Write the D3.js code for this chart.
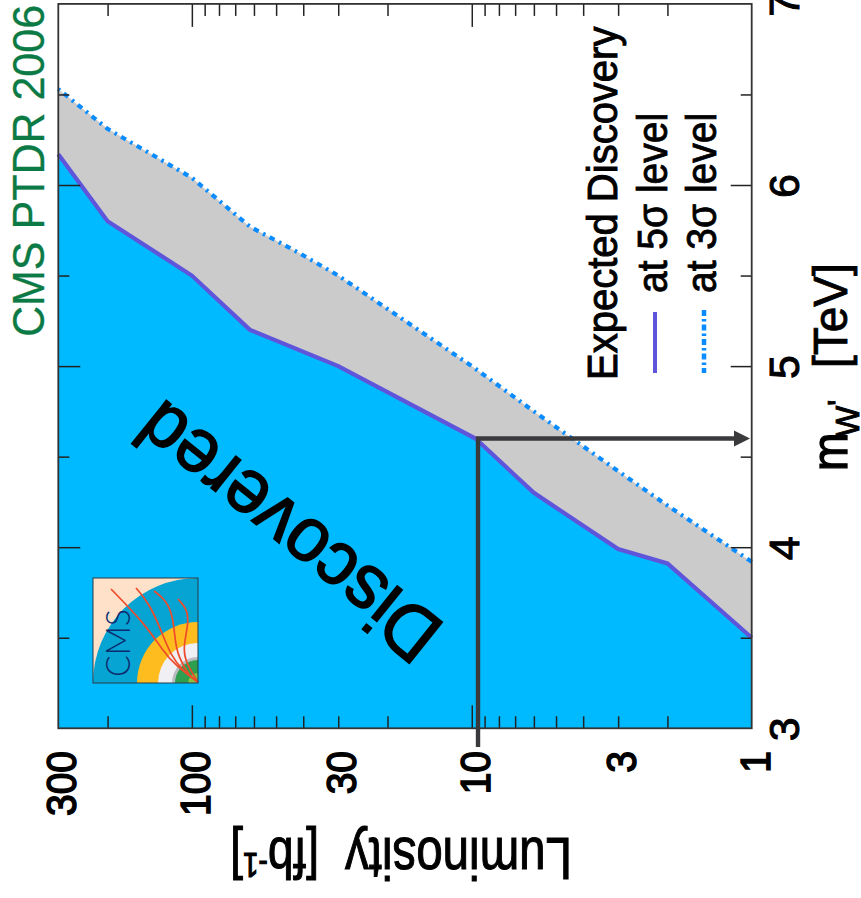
<!DOCTYPE html>
<html>
<head>
<meta charset="utf-8">
<script src="https://d3js.org/d3.v7.min.js"></script>
<style>
  html, body { margin: 0; padding: 0; background: #fff; overflow: hidden; }
  svg { display: block; }
  text { font-family: "Liberation Sans", Arial, sans-serif; }
</style>
</head>
<body>
<div id="chart"></div>
<script>
// values
const sig5Lumi = [1, 2, 3, 6, 9.7, 30, 62, 100, 200, 300];
const sig5Mass = [3.5, 3.91, 3.99, 4.3, 4.6, 5.0, 5.2, 5.5, 5.8, 6.17];
const sig3Lumi = [1, 2, 3, 6, 10, 30, 42, 62, 100, 200, 300];
const sig3Mass = [3.92, 4.23, 4.42, 4.75, 5.0, 5.5, 5.63, 5.77, 6.04, 6.31, 6.53];
const arrowLumi = 9.5;
const arrowMass = 4.6;

const lumiLabels = [1, 3, 10, 30, 100, 300];
const lumiMajor = [10, 100];
const lumiMinor = [2, 3, 4, 5, 6, 7, 8, 9, 20, 30, 40, 50, 60, 70, 80, 90, 200];
const massLabels = [3, 4, 5, 6, 7];
const massMajor = [4, 5, 6];
const massMinor = [3.5, 4.5, 5.5, 6.5];

const W = 861, H = 898;
const frame = {left: 58.3, right: 751.7, top: 3.9, bottom: 728.3};

const svg = d3.select('#chart').append('svg').attr('width', W).attr('height', H);

const x = d3.scaleLog().domain([1, 300]).range([frame.right, frame.left]);
const y = d3.scaleLinear().domain([3, 7]).range([frame.bottom, frame.top]);

const sig5 = sig5Lumi.map((l, i) => [l, sig5Mass[i]]);
const sig3 = sig3Lumi.map((l, i) => [l, sig3Mass[i]]);

const area = d3.area().x(d => x(d[0])).y0(y(3)).y1(d => y(d[1]));
const line = d3.line().x(d => x(d[0])).y(d => y(d[1]));

svg.append('path').attr('d', area(sig3)).attr('fill', '#cbcbcb');
svg.append('path').attr('d', area(sig5)).attr('fill', '#00baff');

svg.append('path').attr('d', line(sig3)).attr('fill', 'none')
    .attr('stroke', '#0a8cff').attr('stroke-width', 4.2).attr('stroke-dasharray', '5.5 5 2.5 5');
svg.append('path').attr('d', line(sig5)).attr('fill', 'none')
    .attr('stroke', '#5f55db').attr('stroke-width', 4.2);

// ticks on all four sides, pointing inwards
function ticks(axis, vals, size, tx, ty) {
    const g = svg.append('g').attr('transform', 'translate(' + tx + ',' + ty + ')')
        .call(axis.tickValues(vals).tickSize(size).tickFormat(''));
    g.select('.domain').remove();
    g.selectAll('line').attr('stroke', '#222').attr('stroke-width', 1.5);
}
ticks(d3.axisBottom(x), lumiMajor, 23, 0, frame.top);
ticks(d3.axisBottom(x), lumiMinor, 12, 0, frame.top);
ticks(d3.axisTop(x), lumiMajor, 23, 0, frame.bottom);
ticks(d3.axisTop(x), lumiMinor, 12, 0, frame.bottom);
ticks(d3.axisRight(y), massMajor, 22, frame.left, 0);
ticks(d3.axisRight(y), massMinor, 11, frame.left, 0);
ticks(d3.axisLeft(y), massMajor, 21, frame.right, 0);
ticks(d3.axisLeft(y), massMinor, 11, frame.right, 0);

svg.append('rect')
    .attr('x', frame.left).attr('y', frame.top)
    .attr('width', frame.right - frame.left).attr('height', frame.bottom - frame.top)
    .attr('fill', 'none').attr('stroke', '#333').attr('stroke-width', 1.8);

// arrow from the 10 fb-1 point
svg.append('path')
    .attr('d', d3.line()([[x(arrowLumi), 747], [x(arrowLumi), y(arrowMass)], [736, y(arrowMass)]]))
    .attr('fill', 'none').attr('stroke', '#3a3a3d').attr('stroke-width', 4.4);
svg.append('path')
    .attr('d', d3.line()([[734, y(arrowMass) - 8], [750, y(arrowMass)], [734, y(arrowMass) + 8]]) + 'Z')
    .attr('fill', '#3a3a3d');

// helper for the turned and stretched text of the scanned figure
function label(str, px, py, angle, size, opt) {
    opt = opt || {};
    const sx = opt.sx || 1, sy = opt.sy || 1;
    return svg.append('text')
        .attr('transform', 'translate(' + px + ',' + py + ') rotate(' + angle + ') scale(' + sx + ',' + sy + ')')
        .attr('font-size', size)
        .attr('text-anchor', opt.anchor || 'start')
        .attr('fill', opt.fill || '#000')
        .attr('stroke', opt.stroke || 'none')
        .attr('stroke-width', opt.sw || 0)
        .text(str);
}

lumiLabels.forEach(v => {
    label(String(v), x(v) + 18, 751, -90, 39, {anchor: 'end', sy: 1.08, stroke: '#000', sw: 1.4});
});
massLabels.forEach(v => {
    label(String(v), 799, y(v) + 1, -90, 43, {anchor: 'middle', stroke: '#000', sw: 1});
});

label('CMS PTDR 2006', 44, 337, -90, 43, {sy: 1.05, fill: '#0b7a45', stroke: '#0b7a45', sw: 0.3});

label('Expected Discovery', 617, 380, -90, 40, {sy: 1.08, stroke: '#000', sw: 0.9});
label('at 5σ level', 667, 293, -90, 39, {sy: 1.08, stroke: '#000', sw: 0.8});
label('at 3σ level', 716, 293, -90, 39, {sy: 1.08, stroke: '#000', sw: 0.8});

svg.append('path').attr('d', d3.line()([[655, 312], [655, 373]]))
    .attr('fill', 'none').attr('stroke', '#5f55db').attr('stroke-width', 4);
svg.append('path').attr('d', d3.line()([[704, 310], [704, 373]]))
    .attr('fill', 'none').attr('stroke', '#0a8cff').attr('stroke-width', 4.5).attr('stroke-dasharray', '6 3 2.5 3');

label('m', 847, 471, -90, 46, {sy: 1.1, stroke: '#000', sw: 1.2});
label('W', 859, 437, -90, 33, {stroke: '#000', sw: 0.9});
label("'", 851, 406, -90, 34, {stroke: '#000', sw: 0.7});
label('[TeV]', 847, 368, -90, 46, {sy: 1.06, stroke: '#000', sw: 0.8});

label('Luminosity', 572, 838, 180, 47.5, {sy: 1.26, stroke: '#000', sw: 0.9});
const fb = label('[fb', 319, 838, 180, 46, {sy: 1.26, stroke: '#000', sw: 0.9});
fb.append('tspan').attr('font-size', 28).attr('dy', -12).text('-1');
fb.append('tspan').attr('font-size', 46).attr('dy', 12).text(']');

label('Discovered', 447, 626, 218.8, 73, {sy: 1.05, stroke: '#000', sw: 1.5});

// CMS logo, drawn in a 105 px box with the collision point at its lower right corner
const logoBox = 105;
const logo = svg.append('g').attr('transform', 'translate(93,578)');
logo.append('rect').attr('width', logoBox).attr('height', logoBox).attr('fill', '#ffe0c8');
const rings = [[105, '#05a4d2'], [61, '#ffbc1f'], [40, '#efeff4'], [26, '#b9bcc0'], [23, '#2e9e4f'], [10, '#8cbf3f']];
const clipId = 'logo-clip';
logo.append('clipPath').attr('id', clipId).append('rect').attr('width', logoBox).attr('height', logoBox);
logo.append('g').attr('clip-path', 'url(#' + clipId + ')').selectAll('circle').data(rings).join('circle')
    .attr('cx', logoBox).attr('cy', logoBox).attr('r', d => d[0]).attr('fill', d => d[1]);
const tracks = [
    [[18, 11], [18, 11], [53, 47], [70, 73], [83, 88], [105, 104], [105, 104]],
    [[43, 10], [43, 10], [56, 25], [68, 52], [78, 78], [90, 93], [105, 104], [105, 104]],
    [[61, 13], [61, 13], [73, 22], [80, 38], [82, 62], [85, 78], [96, 98], [105, 104], [105, 104]],
    [[85, 21], [85, 21], [95, 32], [95, 48], [91, 65], [91, 82], [105, 104], [105, 104]]
];
logo.append('text')
    .attr('transform', 'translate(37,99) rotate(-90)')
    .attr('font-size', 33).attr('fill', '#0e2c70')
    .attr('textLength', 68).attr('lengthAdjust', 'spacingAndGlyphs')
    .attr('style', 'font-family:Lato;font-weight:300')
    .text('CMS');
logo.selectAll('path.track').data(tracks).join('path').attr('class', 'track')
    .attr('d', d3.line().curve(d3.curveBasis))
    .attr('fill', 'none').attr('stroke', '#ee4b2b').attr('stroke-width', 1.7);
logo.append('rect').attr('width', logoBox).attr('height', logoBox)
    .attr('fill', 'none').attr('stroke', '#2b3a44').attr('stroke-width', 1);
</script>
</body>
</html>
